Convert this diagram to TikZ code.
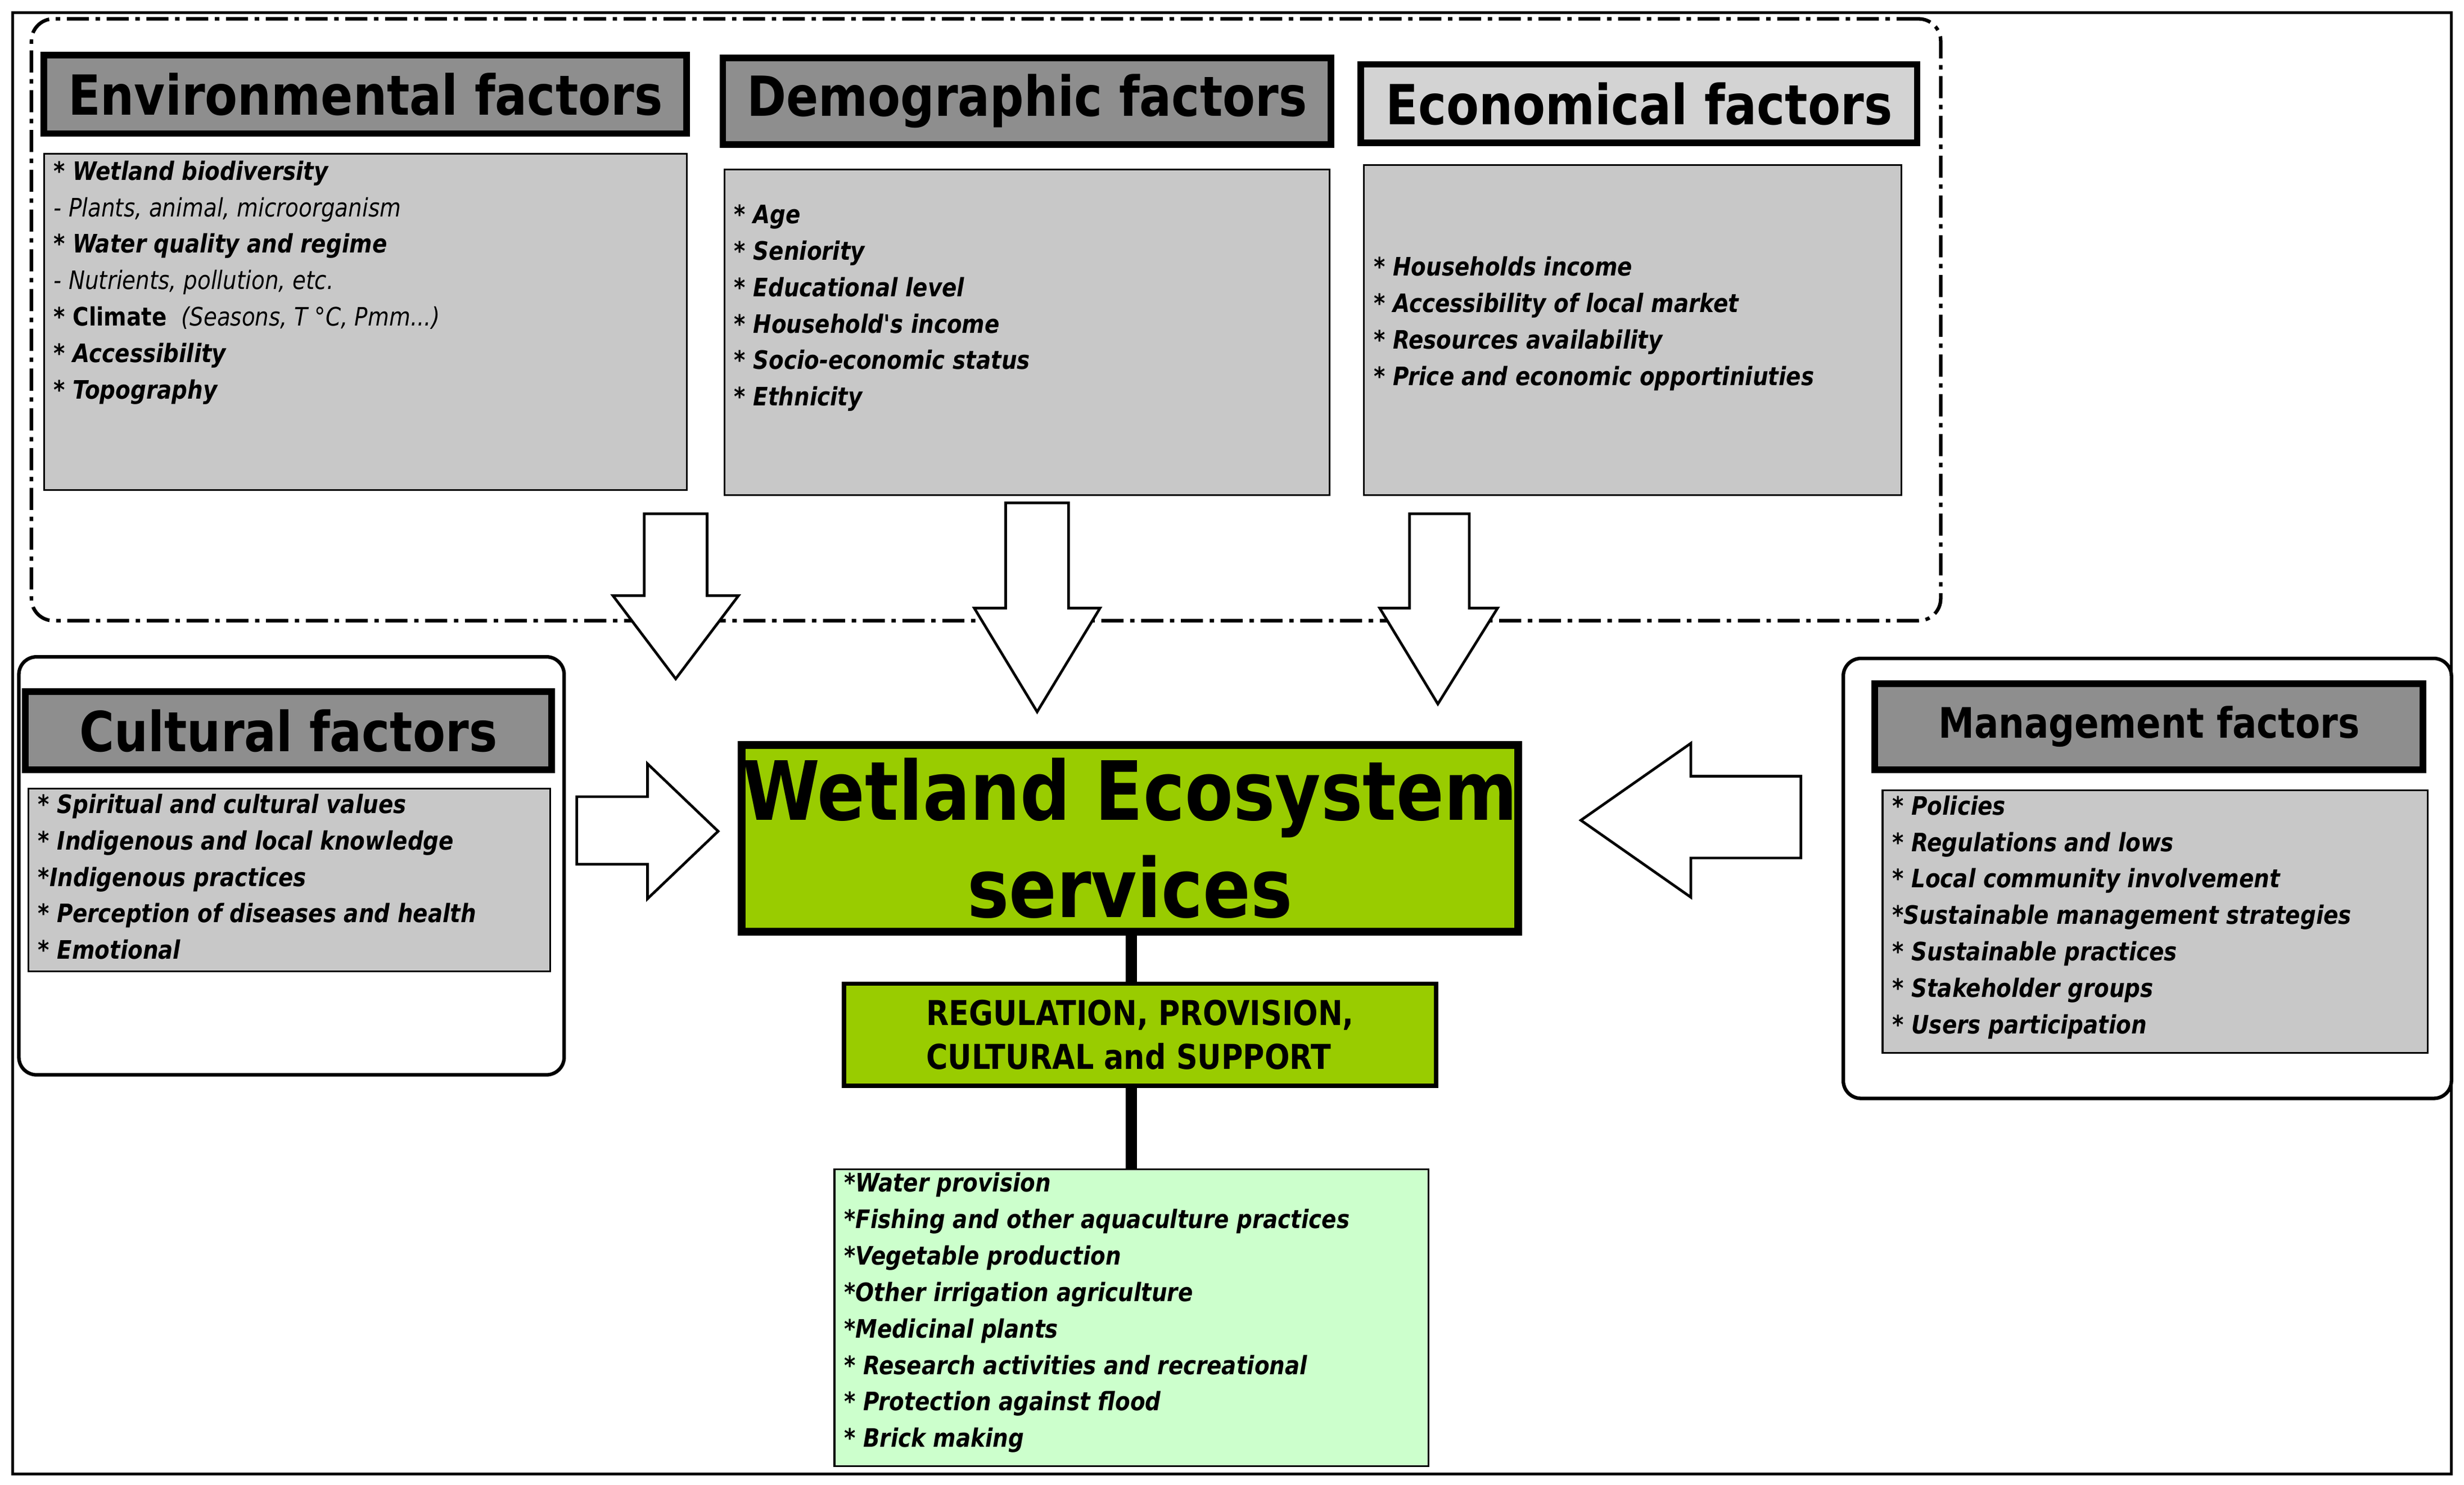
\documentclass[tikz,border=0pt]{standalone}
\usepackage{fontspec}
\setmainfont{DejaVu Sans}
\newfontfamily\cond[FakeStretch=0.86]{DejaVu Sans}
\usetikzlibrary{fit}
\definecolor{tgray}{HTML}{8E8E8E}
\definecolor{lgray}{HTML}{C8C8C8}
\definecolor{egreen}{HTML}{99CC00}
\definecolor{pgreen}{HTML}{CCFFCC}
\tikzset{
 fitbox/.style={inner sep=0pt,draw=black},
 title/.style={fitbox,fill=tgray,line width=3pt},
 content/.style={fitbox,fill=lgray,line width=0.8pt},
 outerbox/.style={fitbox,rounded corners=8pt,line width=1.6pt},
 ttext/.style={font=\cond\bfseries\fontsize{25}{28}\selectfont},
 btext/.style={font=\cond\bfseries\itshape\fontsize{11.5}{16.5}\selectfont,align=left,anchor=north west,inner sep=0pt},
 barrow/.style={draw=black,fill=white,line width=1.2pt,line join=miter},
 stem/.style={line width=5pt}
}
\begin{document}
\begin{tikzpicture}[x=0.025cm,y=-0.025cm]
\useasboundingbox (0,0) rectangle (1568,945);
\node[fitbox,line width=1.2pt,fit={(8,8)(1560,938)}] (outer) {};
\node[fitbox,rounded corners=10pt,line width=1.6pt,dash pattern=on 10pt off 3pt on 2pt off 3pt,fit={(20,12)(1235,395)}] (grp) {};
% Environmental
\node[title,fit={(28,35)(437,85)}] (envt) {};
\node[ttext] at (envt) {Environmental factors};
\node[content,fit={(28,98)(437,312)}] (envc) {};
\node[btext] (envx) at (34,102) {* Wetland biodiversity\\
{\mdseries - Plants, animal, microorganism}\\
* Water quality and regime\\
{\mdseries - Nutrients, pollution, etc.}\\
* {\upshape Climate} {\mdseries\ (Seasons, T °C, Pmm...)}\\
* Accessibility\\
* Topography};
% Demographic
\node[title,fit={(460,37)(847,92)}] (demt) {};
\node[ttext] at (demt) {Demographic factors};
\node[content,fit={(461,108)(846,315)}] (demc) {};
\node[btext] (demx) at (467,130) {* Age\\* Seniority\\* Educational level\\* Household's income\\* Socio-economic status\\* Ethnicity};
% Economical
\node[title,fill=lgray!80,fit={(866,41)(1220,91)}] (ecot) {};
\node[ttext] at (ecot) {Economical factors};
\node[content,fit={(868,105)(1210,315)}] (ecoc) {};
\node[btext] (ecox) at (874,163) {* Households income\\* Accessibility of local market\\* Resources availability\\* Price and economic opportiniuties};
% down arrows
\path[barrow] (410,327) -- (450,327) -- (450,379) -- (470,379) -- (430,432) -- (390,379) -- (410,379) -- cycle;
\path[barrow] (640,320) -- (680,320) -- (680,387) -- (700,387) -- (660,453) -- (620,387) -- (640,387) -- cycle;
\path[barrow] (897,327) -- (935,327) -- (935,387) -- (953,387) -- (915,448) -- (878,387) -- (897,387) -- cycle;
% Cultural
\node[outerbox,fit={(12,418)(359,684)}] (culo) {};
\node[title,fit={(16,440)(351,490)}] (cult) {};
\node[ttext] at (cult) {Cultural factors};
\node[content,fit={(18,502)(350,618)}] (culc) {};
\node[btext] (culx) at (24,505) {* Spiritual and cultural values\\* Indigenous and local knowledge\\*Indigenous practices\\* Perception of diseases and health\\* Emotional};
\path[barrow] (367,507) -- (412,507) -- (412,486) -- (457,529) -- (412,572) -- (412,550) -- (367,550) -- cycle;
% Center
\node[fitbox,fill=egreen,line width=3.5pt,fit={(472,474)(966,593)}] (wes) {};
\node[font=\cond\bfseries\fontsize{37}{44}\selectfont,align=center] at (wes) {Wetland Ecosystem\\services};
\node[fitbox,fill=egreen,line width=2pt,fit={(537,626)(914,691)}] (reg) {};
\node[font=\cond\bfseries\fontsize{15.5}{20}\selectfont,align=left] at (reg) {REGULATION, PROVISION,\\ CULTURAL and SUPPORT};
\node[fitbox,fill=pgreen,line width=0.8pt,fit={(531,744)(909,933)}] (svc) {};
\node[btext] (svcx) at (537,746) {*Water provision\\*Fishing and other aquaculture practices\\*Vegetable production\\*Other irrigation agriculture\\*Medicinal plants\\* Research activities and recreational\\* Protection against flood\\* Brick making};
\draw[stem] (wes.south -| 720,0) -- (reg.north -| 720,0);
\draw[stem] (reg.south -| 720,0) -- (svc.north -| 720,0);
% Management
\node[outerbox,fit={(1173,419)(1560,699)}] (mano) {};
\node[title,fit={(1193,435)(1542,490)}] (mant) {};
\node[font=\cond\bfseries\fontsize{19}{22}\selectfont] at (mant) {Management factors};
\node[content,fit={(1198,503)(1545,670)}] (manc) {};
\node[btext] (manx) at (1204,506) {* Policies\\* Regulations and lows\\* Local community involvement\\*Sustainable management strategies\\* Sustainable practices\\* Stakeholder groups\\* Users participation};
\path[barrow] (1146,494) -- (1076,494) -- (1076,473) -- (1006,522) -- (1076,571) -- (1076,546) -- (1146,546) -- cycle;
\end{tikzpicture}
\end{document}
